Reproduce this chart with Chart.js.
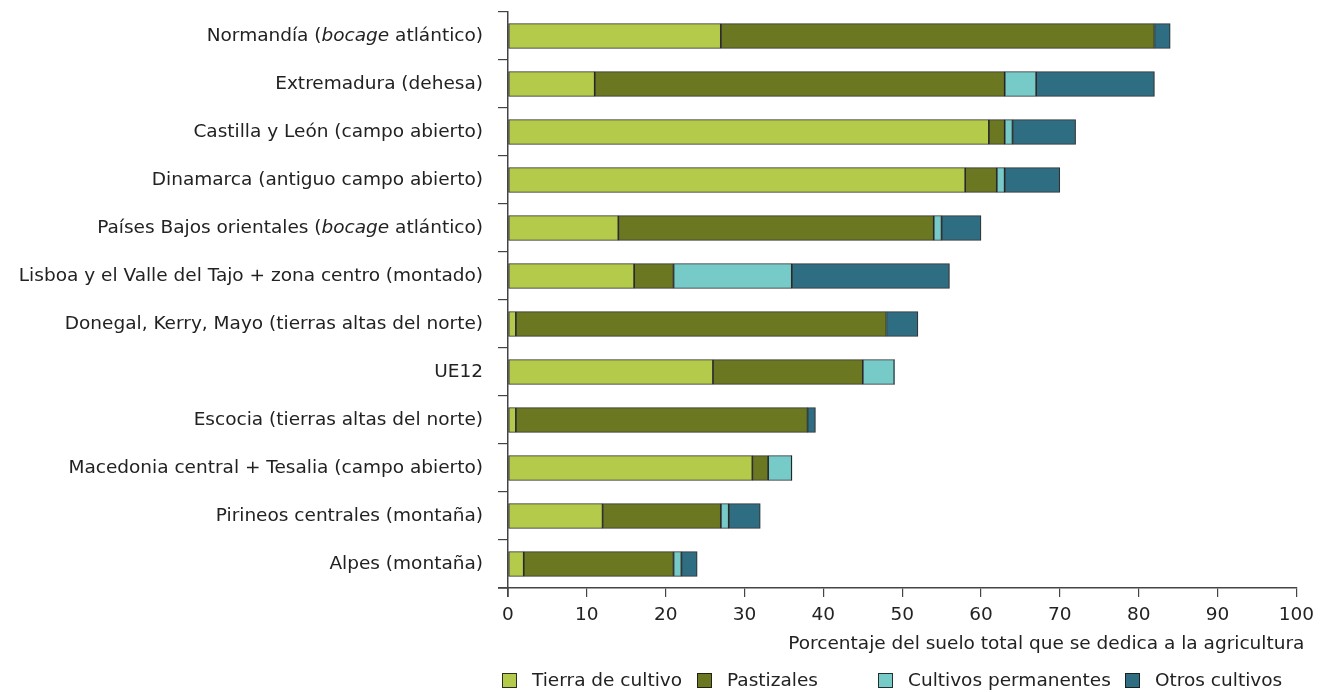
<!DOCTYPE html>
<html>
<head>
<meta charset="utf-8">
<title>Uso del suelo agrícola</title>
<script src="https://cdn.jsdelivr.net/npm/chart.js@4.4.1/dist/chart.umd.min.js"></script>
<style>
  html, body { margin: 0; padding: 0; background: #fff; }
  #wrap { position: relative; width: 1321px; height: 692px; }
</style>
</head>
<body>
<div id="wrap"><canvas id="landChart"></canvas></div>
<script>
// regions, top to bottom
const regions = [
  'Normandía (bocage atlántico)',
  'Extremadura (dehesa)',
  'Castilla y León (campo abierto)',
  'Dinamarca (antiguo campo abierto)',
  'Países Bajos orientales (bocage atlántico)',
  'Lisboa y el Valle del Tajo + zona centro (montado)',
  'Donegal, Kerry, Mayo (tierras altas del norte)',
  'UE12',
  'Escocia (tierras altas del norte)',
  'Macedonia central + Tesalia (campo abierto)',
  'Pirineos centrales (montaña)',
  'Alpes (montaña)'
];

// % of total land
const tierraCultivo = [27, 11, 61, 58, 14, 16, 1, 26, 1, 31, 12, 2];
const pastizales = [55, 52, 2, 4, 40, 5, 47, 19, 37, 2, 15, 19];
const cultivosPermanentes = [0, 4, 1, 1, 1, 15, 0, 4, 0, 3, 1, 1];
const otrosCultivos = [2, 15, 8, 7, 5, 20, 4, 0, 1, 0, 4, 2];

const xTicks = [0, 10, 20, 30, 40, 50, 60, 70, 80, 90, 100];
const seriesNames = ['Tierra de cultivo', 'Pastizales', 'Cultivos permanentes', 'Otros cultivos'];
const seriesColors = ['#b4ca4a', '#6b7821', '#76cac8', '#2f6d83'];
const italicWord = 'bocage';
const axisTitle = 'Porcentaje del suelo total que se dedica a la agricultura';

const FONT = '"DejaVu Sans", Verdana, sans-serif';
const SIZE = 18.5;
const TEXT = '#222';

// category labels with an italic word, drawn by hand
const regionLabels = {
  id: 'regionLabels',
  afterDraw(chart) {
    const c = chart.ctx;
    const y = chart.scales.y;
    c.save();
    c.fillStyle = TEXT;
    c.textBaseline = 'middle';
    c.textAlign = 'left';
    regions.forEach((label, i) => {
      const py = y.getPixelForTick(i);
      const parts = label.split(italicWord);
      const segs = [];
      parts.forEach((p, k) => {
        if (k > 0) segs.push({ t: italicWord, it: true });
        if (p) segs.push({ t: p, it: false });
      });
      let w = 0;
      segs.forEach(s => {
        c.font = (s.it ? 'italic ' : '') + SIZE + 'px ' + FONT;
        s.w = c.measureText(s.t).width;
        w += s.w;
      });
      let x = 483 - w;
      segs.forEach(s => {
        c.font = (s.it ? 'italic ' : '') + SIZE + 'px ' + FONT;
        c.fillText(s.t, x, py);
        x += s.w;
      });
    });
    c.restore();
  }
};

// axis title + legend along the bottom, and the short stub of the x axis left of zero
const bottomText = {
  id: 'bottomText',
  afterDraw(chart) {
    const c = chart.ctx;
    const area = chart.chartArea;
    c.save();
    c.strokeStyle = '#444';
    c.lineWidth = 1.5;
    c.beginPath();
    c.moveTo(area.left - 10, area.bottom);
    c.lineTo(area.left, area.bottom);
    c.moveTo(area.left, area.bottom);
    c.lineTo(area.left, area.bottom + 9);
    c.stroke();

    c.font = SIZE + 'px ' + FONT;
    c.fillStyle = TEXT;
    c.textBaseline = 'middle';
    c.textAlign = 'right';
    c.fillText(axisTitle, area.right + 8, 644);

    const legendX = [502, 697, 878, 1125];
    c.textAlign = 'left';
    seriesNames.forEach((name, i) => {
      const x = legendX[i];
      c.fillStyle = seriesColors[i];
      c.fillRect(x, 673, 15, 15);
      c.strokeStyle = 'rgba(20,20,20,0.85)';
      c.lineWidth = 1;
      c.strokeRect(x + 0.5, 673.5, 14, 14);
      c.fillStyle = TEXT;
      c.fillText(name, x + 30, 681);
    });
    c.restore();
  }
};

const seriesData = [tierraCultivo, pastizales, cultivosPermanentes, otrosCultivos];

const ctx = document.getElementById('landChart');
new Chart(ctx, {
  type: 'bar',
  data: {
    labels: regions,
    datasets: seriesNames.map((name, i) => ({
      label: name,
      data: seriesData[i],
      backgroundColor: seriesColors[i],
      borderColor: 'rgba(15,15,15,0.85)',
      borderWidth: c => (c.raw ? 1.2 : 0),
      borderSkipped: false,
      barThickness: 25
    }))
  },
  options: {
    indexAxis: 'y',
    responsive: true,
    maintainAspectRatio: false,
    animation: false,
    layout: { padding: { top: 12, right: 24, bottom: 0, left: 0 } },
    plugins: {
      legend: { display: false },
      tooltip: { enabled: false }
    },
    scales: {
      x: {
        stacked: true,
        min: 0,
        max: 100,
        afterBuildTicks: scale => { scale.ticks = xTicks.map(v => ({ value: v })); },
        afterFit: scale => { scale.height = 104; },
        grid: { drawOnChartArea: false, drawTicks: true, tickLength: 9, color: '#444', lineWidth: 1.2 },
        border: { color: '#444', width: 1.5 },
        ticks: { font: { family: FONT, size: SIZE }, color: TEXT, padding: 7, maxRotation: 0 }
      },
      y: {
        stacked: true,
        afterFit: scale => { scale.width = 508; },
        grid: { offset: true, drawOnChartArea: false, drawTicks: true, tickLength: 10, color: '#444', lineWidth: 1.2 },
        border: { color: '#444', width: 1.5 },
        ticks: { callback: () => '' }
      }
    }
  },
  plugins: [regionLabels, bottomText]
});
</script>
</body>
</html>
